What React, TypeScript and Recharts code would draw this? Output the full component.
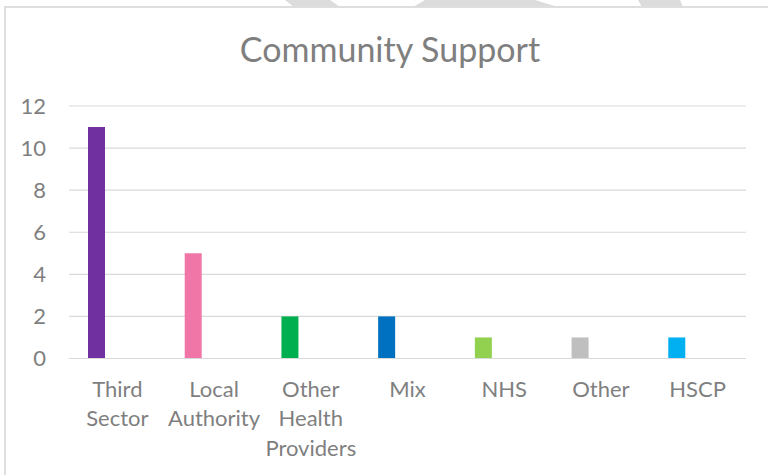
import React from "react";
import { BarChart, Bar, XAxis, YAxis, CartesianGrid, Cell } from "recharts";

const categories = ["Third Sector", "Local Authority", "Other Health Providers", "Mix", "NHS", "Other", "HSCP"];
const counts = [11, 5, 2, 2, 1, 1, 1];
const secondSeries = [null, null, null, null, null, null, null];
const barColors = ["#7030A0", "#F076A8", "#00B050", "#0070C0", "#92D050", "#BFBFBF", "#00B0F0"];
const yTicks = [0, 2, 4, 6, 8, 10, 12];
const title = "Community Support";

const data = categories.map((c, i) => ({ name: c, value: counts[i], other: secondSeries[i] }));

const FONT = "Lato, 'Open Sans', sans-serif";
const TEXT = "#7f7f7f";

const CategoryTick = (props: any) => {
  const { x, y, payload } = props;
  const lines = String(payload.value).split(" ");
  return (
    <text x={x} y={y + 38.5} textAnchor="middle" fill={TEXT} fontFamily={FONT} fontSize={22}>
      {lines.map((l: string, i: number) => (
        <tspan key={i} x={x} dy={i === 0 ? 0 : 29.3}>
          {l}
        </tspan>
      ))}
    </text>
  );
};

export default function App() {
  return (
    <div style={{ position: "absolute", left: 0, top: 0, width: 768, height: 475, overflow: "hidden", background: "#fff" }}>
      <svg width={768} height={475} style={{ position: "absolute", left: 0, top: 0 }}>
        <polygon points="285,0 330,0 340,7 294,7" fill="#dcdcdc" />
        <polygon points="425,0 535,0 558,7 413,7" fill="#dcdcdc" />
        <polygon points="638,0 680,0 683,7 642,7" fill="#dcdcdc" />
      </svg>
      <div
        style={{
          position: "absolute",
          left: 4,
          top: 6,
          width: 820,
          height: 520,
          border: "2px solid #dedede",
          background: "#fff",
        }}
      />
      <div style={{ position: "absolute", left: 0, top: 0 }}>
        <BarChart
          width={768}
          height={475}
          data={data}
          margin={{ top: 106, right: 22, left: 0, bottom: 0 }}
          barSize={17}
          barGap={25}
        >
          <CartesianGrid vertical={false} stroke="#d9d9d9" strokeWidth={1.2} />
          <XAxis
            dataKey="name"
            height={116.5}
            axisLine={{ stroke: "#d9d9d9", strokeWidth: 1.2 }}
            tickLine={false}
            tickSize={0}
            tickMargin={0}
            interval={0}
            tick={<CategoryTick />}
          />
          <YAxis
            width={69}
            domain={[0, 12]}
            ticks={yTicks}
            axisLine={false}
            tickLine={false}
            tickSize={0}
            tickMargin={23}
            tick={{ fill: TEXT, fontFamily: FONT, fontSize: 22 }}
          />
          <Bar dataKey="value" isAnimationActive={false}>
            {data.map((d, i) => (
              <Cell key={d.name} fill={barColors[i]} />
            ))}
          </Bar>
          <Bar dataKey="other" isAnimationActive={false} fill="#ffffff" />
        </BarChart>
      </div>
      <svg width={768} height={475} style={{ position: "absolute", left: 0, top: 0, pointerEvents: "none" }}>
        <text x={390} y={62} textAnchor="middle" fill={TEXT} fontFamily={FONT} fontSize={34}>
          {title}
        </text>
      </svg>
    </div>
  );
}
